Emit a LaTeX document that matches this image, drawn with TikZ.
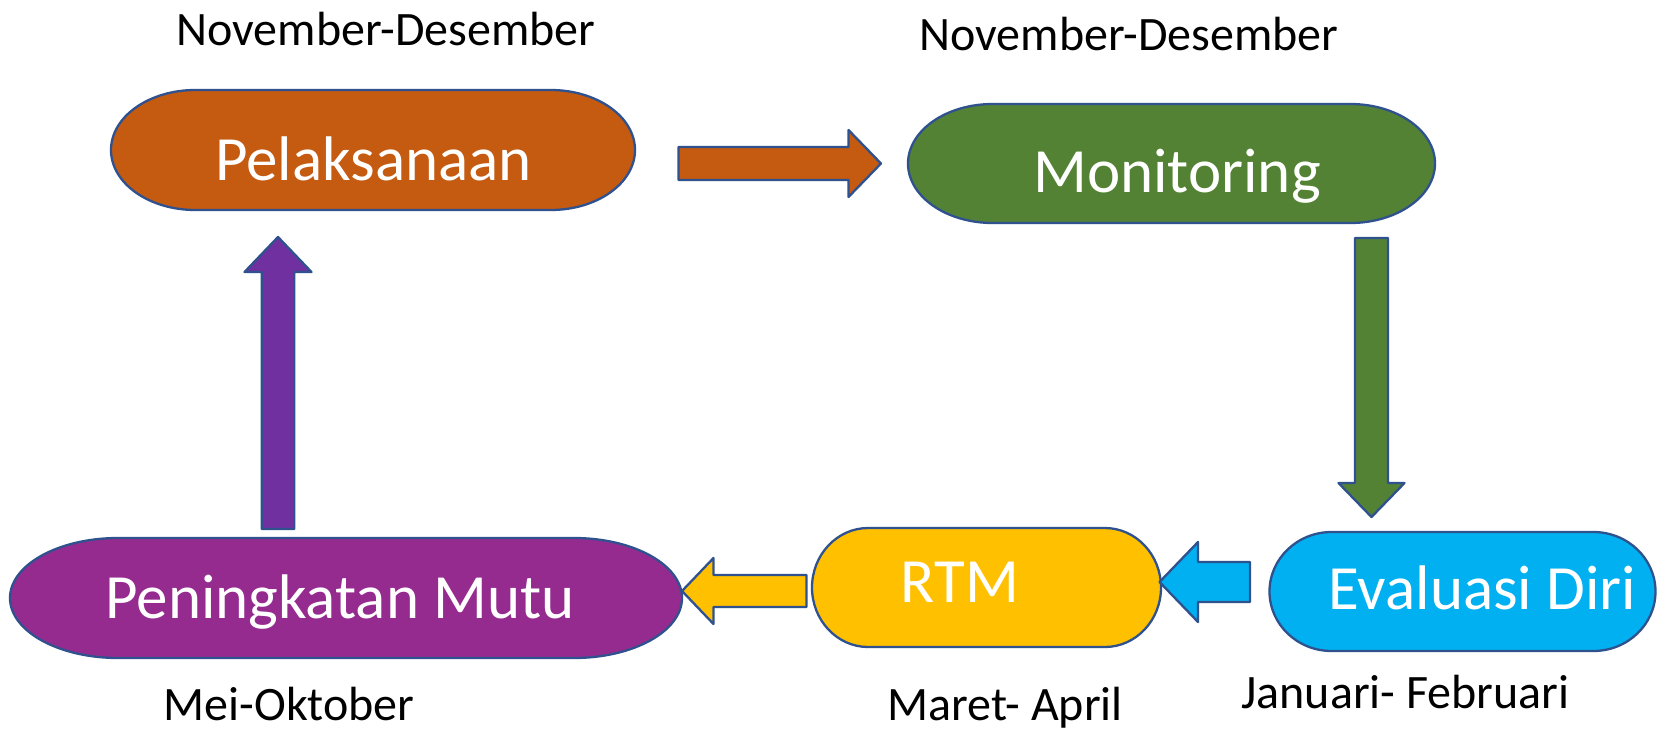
\documentclass[tikz,border=0pt]{standalone}
\usepackage{fontspec}
\setmainfont{Carlito}
\usetikzlibrary{calc}
\definecolor{cOrange}{HTML}{C55A11}
\definecolor{cGreen}{HTML}{548235}
\definecolor{cBlue}{HTML}{00B0F0}
\definecolor{cYellow}{HTML}{FFC000}
\definecolor{cMagenta}{HTML}{952A8F}
\definecolor{cPurple}{HTML}{7030A0}
\definecolor{cEdge}{HTML}{2F528F}
\tikzset{
  termline/.style={draw=cEdge, line width=2.3pt, line join=round},
  inlabel/.style={text=white, font=\fontsize{63}{75}\selectfont, anchor=base, inner sep=0pt},
  datelabel/.style={text=black, font=\fontsize{48}{57}\selectfont, anchor=base, inner sep=0pt}
}
\newcommand\termbox[6]{%
  \node[minimum width=#4pt, minimum height=#5pt, inner sep=0pt, outer sep=0pt] (#1) at (#2,#3) {};
  \pgfmathsetmacro\tmrx{0.161*#4}%
  \pgfmathsetmacro\tmry{#5/2}%
  \draw[termline, fill=#6] ([xshift=\tmrx pt]#1.north west) -- ([xshift=-\tmrx pt]#1.north east)
    arc[start angle=90, end angle=-90, x radius=\tmrx pt, y radius=\tmry pt]
    -- ([xshift=\tmrx pt]#1.south west)
    arc[start angle=270, end angle=90, x radius=\tmrx pt, y radius=\tmry pt] -- cycle;
}
\newcommand\blockarr[9]{%
  \coordinate (#1-tail) at (#2,#3);
  \draw[termline, fill=#9, shift={(#1-tail)}, rotate=#4, x=1pt, y=1pt]
    (0,-#6) -- (#5-#8,-#6) -- (#5-#8,-#7) -- (#5,0) coordinate (#1-tip)
    -- (#5-#8,#7) -- (#5-#8,#6) -- (0,#6) -- cycle;
}
\begin{document}
\begin{tikzpicture}[x=1pt, y=-1pt]
\useasboundingbox[fill=white] (0,0) rectangle (1658,729);

% shapes
\termbox{pel}{373}{150}{524}{120}{cOrange}
\termbox{mon}{1171.5}{163.5}{527}{119}{cGreen}
\termbox{pen}{346}{598}{672}{120}{cMagenta}
\termbox{rtm}{986.5}{587.5}{349}{119}{cYellow}
\termbox{eva}{1462.5}{591.5}{386}{119}{cBlue}

% texts inside shapes
\node[inlabel] (pel-t) at (373.5,180.5) {Pelaksanaan};
\node[inlabel] (mon-t) at (1177,192) {Monitoring};
\node[inlabel] (pen-t) at (340,618) {Peningkatan Mutu};
\node[inlabel] (rtm-t) at (960,602) {RTM};
\node[inlabel] (eva-t) at (1482.5,609) {Evaluasi Diri};

% date labels
\node[datelabel] (pel-d) at (386,45) {November-Desember};
\node[datelabel] (mon-d) at (1129,50) {November-Desember};
\node[datelabel] (pen-d) at (289,720) {Mei-Oktober};
\node[datelabel] (rtm-d) at (1005,720) {Maret- April};
\node[datelabel] (eva-d) at (1405.5,708) {Januari- Februari};

% block arrows
\blockarr{a1}{678.5}{163.5}{0}{202.5}{16.5}{33.5}{32.5}{cOrange}
\blockarr{a2}{1371.5}{238}{-90}{279}{16.5}{33}{34}{cGreen}
\blockarr{a3}{1250}{582}{180}{90.5}{20}{40}{38.5}{cBlue}
\blockarr{a4}{806.5}{591}{180}{124.5}{16}{33}{31.5}{cYellow}
\blockarr{a5}{278}{529}{90}{292}{16.25}{33.5}{35}{cPurple}
\end{tikzpicture}
\end{document}
